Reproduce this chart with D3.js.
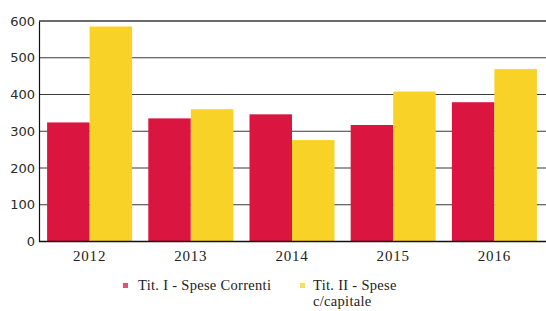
<!DOCTYPE html>
<html>
<head>
<meta charset="utf-8">
<script src="https://cdn.jsdelivr.net/npm/d3@7"></script>
<style>
  body { margin: 0; background: #fff; }
  svg { display: block; }
</style>
</head>
<body>
<div id="chart"></div>
<script>
// data
const years = ["2012", "2013", "2014", "2015", "2016"];
const speseCorrenti = [324, 335, 346, 317, 379];
const speseCapitale = [585, 360, 276, 408, 469];
const seriesNames = ["Tit. I - Spese Correnti", "Tit. II - Spese c/capitale"];
const yTicks = [0, 100, 200, 300, 400, 500, 600];

const colors = ["#da1540", "#f9d228"];

const width = 546, height = 311;
const plotLeft = 39, plotRight = 545, plotTop = 21, plotBottom = 241.5;

const svg = d3.select("#chart").append("svg")
    .attr("width", width)
    .attr("height", height);

// scales
const x0 = d3.scaleBand()
    .domain(years)
    .range([plotLeft, plotRight])
    .paddingInner(0.16)
    .paddingOuter(0.08);

const x1 = d3.scaleBand()
    .domain([0, 1])
    .range([0, x0.bandwidth()]);

const y = d3.scaleLinear()
    .domain([0, 600])
    .range([plotBottom, plotTop]);

// gridlines behind the bars
svg.append("g")
    .selectAll("line")
    .data(yTicks.filter(d => d > 0))
    .join("line")
    .attr("x1", plotLeft)
    .attr("x2", width)
    .attr("y1", d => y(d))
    .attr("y2", d => y(d))
    .attr("stroke", "#3a3a3a")
    .attr("stroke-width", d => d === 600 ? 1.4 : 1.1);

// bars
const rows = years.map((yr, i) => ({year: yr, vals: [speseCorrenti[i], speseCapitale[i]]}));

svg.append("g")
    .selectAll("g")
    .data(rows)
    .join("g")
    .attr("transform", d => "translate(" + x0(d.year) + ",0)")
    .selectAll("rect")
    .data(d => d.vals.map((v, k) => ({k: k, v: v})))
    .join("rect")
    .attr("x", d => x1(d.k))
    .attr("width", x1.bandwidth())
    .attr("y", d => y(d.v))
    .attr("height", d => y(0) - y(d.v))
    .attr("fill", d => colors[d.k]);

// y axis
const yAxis = svg.append("g")
    .attr("transform", "translate(" + plotLeft + ",0)")
    .call(d3.axisLeft(y).tickValues(yTicks).tickSize(0).tickPadding(4));
yAxis.select(".domain").attr("stroke", "#111").attr("stroke-width", 1.2);
yAxis.selectAll("text")
    .attr("font-family", "'DejaVu Sans', sans-serif")
    .attr("font-size", 13)
    .attr("fill", "#2a2a2a");

// x axis
const xAxis = svg.append("g")
    .attr("transform", "translate(0," + plotBottom + ")")
    .call(d3.axisBottom(x0).tickSize(0).tickPadding(9));
xAxis.select(".domain").remove();
xAxis.selectAll("text")
    .attr("font-family", "'Liberation Serif', 'Times New Roman', serif")
    .attr("font-size", 15)
    .attr("letter-spacing", 0.8)
    .attr("fill", "#222");

svg.append("line")
    .attr("x1", plotLeft)
    .attr("x2", width)
    .attr("y1", plotBottom)
    .attr("y2", plotBottom)
    .attr("stroke", "#111")
    .attr("stroke-width", 1.5);

// legend
const legendX = [123, 300];
const legendLines = [["Tit. I - Spese Correnti"], ["Tit. II - Spese", "c/capitale"]];

const legend = svg.append("g")
    .selectAll("g")
    .data(seriesNames)
    .join("g")
    .attr("transform", (d, i) => "translate(" + legendX[i] + ",290)");

legend.append("rect")
    .attr("x", 0)
    .attr("y", -7)
    .attr("width", 5)
    .attr("height", 5)
    .attr("fill", (d, i) => colors[i])
    .attr("opacity", 0.75);

legend.each(function(d, i) {
    d3.select(this).selectAll("text")
        .data(legendLines[i])
        .join("text")
        .attr("x", i === 0 ? 15 : 13)
        .attr("y", (t, k) => k * 16)
        .attr("font-family", "'Liberation Serif', 'Times New Roman', serif")
        .attr("font-size", 14.5)
        .attr("letter-spacing", 0.3)
        .attr("fill", "#222")
        .text(t => t);
});
</script>
</body>
</html>
